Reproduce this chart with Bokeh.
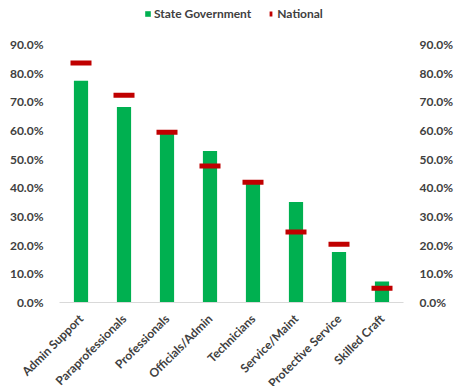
import math
from bokeh.plotting import figure
from bokeh.models import ColumnDataSource, LinearAxis, NumeralTickFormatter, FixedTicker, Range1d, Legend, LegendItem
from bokeh.embed import file_html
from bokeh.resources import INLINE

categories = ["Admin Support", "Paraprofessionals", "Professionals", "Officials/Admin",
              "Technicians", "Service/Maint", "Protective Service", "Skilled Craft"]
state_gov = [0.774, 0.682, 0.588, 0.529, 0.415, 0.351, 0.176, 0.073]
national = [0.836, 0.723, 0.594, 0.476, 0.420, 0.246, 0.203, 0.050]
y_ticks = [0.0, 0.1, 0.2, 0.3, 0.4, 0.5, 0.6, 0.7, 0.8, 0.9]

FONT = "Lato"
TXT = "#404040"

src = ColumnDataSource(dict(cat=categories, state=state_gov, nat=national))

p = figure(x_range=categories, y_range=Range1d(0, 1.04), width=453, height=384,
           frame_width=344, frame_height=298, min_border_left=59, min_border_right=50,
           min_border_top=4, min_border_bottom=0,
           output_backend="svg", toolbar_location=None)
p.outline_line_color = None
p.grid.visible = False
p.background_fill_color = "white"

r1 = p.vbar(x="cat", top="state", width=0.33, source=src, fill_color="#00B050", line_color=None)
r2 = p.scatter(x="cat", y="nat", marker="dash", size=21, source=src,
               line_color="#C00000", line_width=5, fill_color=None, line_cap="butt")

p.yaxis.ticker = FixedTicker(ticks=y_ticks)
p.yaxis.formatter = NumeralTickFormatter(format="0.0%")
p.yaxis.axis_line_color = None
p.yaxis.major_tick_line_color = None
p.yaxis.minor_tick_line_color = None
p.yaxis.major_label_standoff = 10
p.yaxis.major_label_text_font = FONT
p.yaxis.major_label_text_font_style = "bold"
p.yaxis.major_label_text_font_size = "12px"
p.yaxis.major_label_text_color = TXT

ra = LinearAxis(ticker=FixedTicker(ticks=y_ticks), formatter=NumeralTickFormatter(format="0.0%"))
ra.axis_line_color = None
ra.major_tick_line_color = None
ra.minor_tick_line_color = None
ra.major_label_standoff = 10
ra.major_label_text_font = FONT
ra.major_label_text_font_style = "bold"
ra.major_label_text_font_size = "12px"
ra.major_label_text_color = TXT
p.add_layout(ra, "right")

p.xaxis.axis_line_color = "#D9D9D9"
p.xaxis.axis_line_width = 1
p.xaxis.major_tick_line_color = None
p.xaxis.minor_tick_line_color = None
p.xaxis.major_label_orientation = math.pi / 4
p.xaxis.major_label_standoff = 8
p.xaxis.major_label_text_font = FONT
p.xaxis.major_label_text_font_style = "bold"
p.xaxis.major_label_text_font_size = "12px"
p.xaxis.major_label_text_color = TXT

legend = Legend(items=[LegendItem(label="State Government", renderers=[r1]),
                       LegendItem(label="National", renderers=[r2])],
                orientation="horizontal", location=(85, 281))
legend.border_line_color = None
legend.background_fill_alpha = 0
legend.padding = 0
legend.margin = 0
legend.spacing = 16
legend.label_standoff = 3
legend.glyph_width = 7
legend.glyph_height = 7
legend.label_height = 12
legend.label_text_font = FONT
legend.label_text_font_style = "bold"
legend.label_text_font_size = "12px"
legend.label_text_color = TXT
legend.label_text_baseline = "middle"
p.add_layout(legend, "center")

open("out.html", "w").write(file_html(p, INLINE))
